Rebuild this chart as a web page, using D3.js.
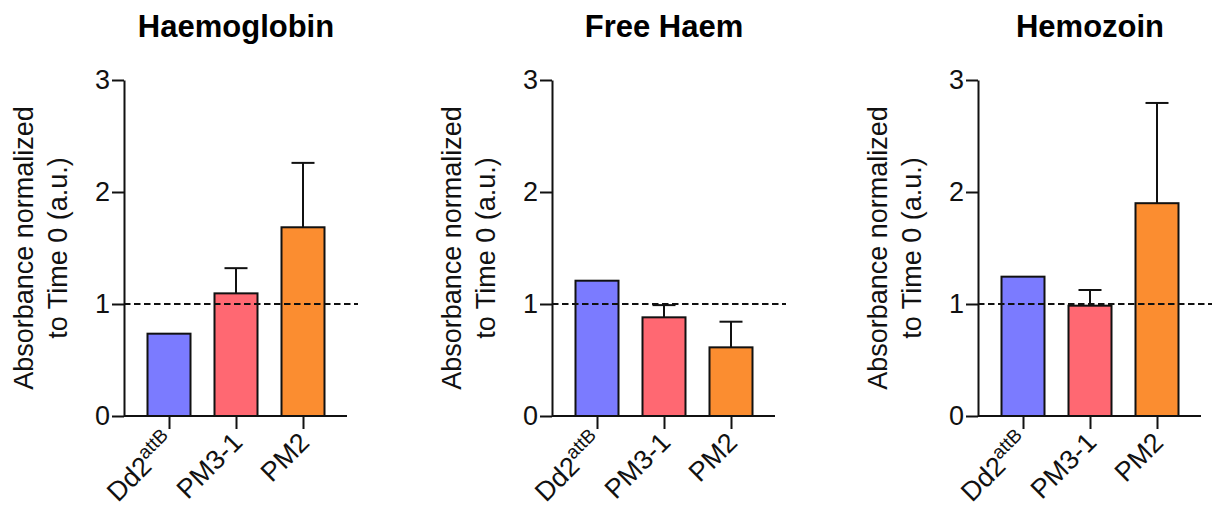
<!DOCTYPE html>
<html>
<head>
<meta charset="utf-8">
<script src="https://cdn.jsdelivr.net/npm/d3@7"></script>
<style>
  body { margin: 0; background: #fff; }
  svg { display: block; font-family: "Liberation Sans", Arial, sans-serif; }
</style>
</head>
<body>
<svg id="chart"></svg>
<script>
// data
const strains = ["Dd2", "PM3-1", "PM2"];
const panelTitles = ["Haemoglobin", "Free Haem", "Hemozoin"];
const haemoglobin = [0.735, 1.095, 1.685];
const haemoglobinErr = [null, 1.32, 2.26];
const freeHaem = [1.208, 0.881, 0.613];
const freeHaemErr = [null, 0.99, 0.842];
const hemozoin = [1.244, 0.985, 1.90];
const hemozoinErr = [null, 1.125, 2.795];
const yTicks = [0, 1, 2, 3];
const barColors = ["#7b7bff", "#ff6872", "#fb8d30"];

const panels = [
    {title: panelTitles[0], values: haemoglobin, errs: haemoglobinErr},
    {title: panelTitles[1], values: freeHaem, errs: freeHaemErr},
    {title: panelTitles[2], values: hemozoin, errs: hemozoinErr}
];

const width = 1212, height = 507;
const svg = d3.select("#chart").attr("width", width).attr("height", height);

const axisX = [124, 552, 978];
const y0 = 416, yTop = 80;
const barW = 43;

const y = d3.scaleLinear().domain([0, 3]).range([y0, yTop]);
const color = d3.scaleOrdinal().domain(strains).range(barColors);

panels.forEach((p, i) => {
    const ax = axisX[i];
    const g = svg.append("g");

    const x = d3.scalePoint()
        .domain(strains)
        .range([ax + 45, ax + 179]);

    // title
    g.append("text")
        .attr("x", x("PM3-1"))
        .attr("y", 37)
        .attr("text-anchor", "middle")
        .attr("font-size", "31px")
        .attr("font-weight", "bold")
        .text(p.title);

    // bars
    g.selectAll("rect.bar")
        .data(p.values)
        .join("rect")
        .attr("class", "bar")
        .attr("x", (d, j) => x(strains[j]) - barW / 2)
        .attr("y", d => y(d))
        .attr("width", barW)
        .attr("height", d => y0 - y(d))
        .attr("fill", (d, j) => color(strains[j]))
        .attr("stroke", "#111")
        .attr("stroke-width", 2);

    // error bars (upper only)
    const errs = p.errs.map((e, j) => ({e, v: p.values[j], k: strains[j]})).filter(d => d.e != null);
    g.selectAll("line.err")
        .data(errs)
        .join("line")
        .attr("x1", d => x(d.k)).attr("x2", d => x(d.k))
        .attr("y1", d => y(d.v)).attr("y2", d => y(d.e))
        .attr("stroke", "#111").attr("stroke-width", 2);
    g.selectAll("line.cap")
        .data(errs)
        .join("line")
        .attr("x1", d => x(d.k) - 11.5).attr("x2", d => x(d.k) + 11.5)
        .attr("y1", d => y(d.e)).attr("y2", d => y(d.e))
        .attr("stroke", "#111").attr("stroke-width", 2);

    // dashed reference line at 1
    g.append("line")
        .attr("x1", ax).attr("x2", ax + 234)
        .attr("y1", y(1)).attr("y2", y(1))
        .attr("stroke", "#111")
        .attr("stroke-width", 2)
        .attr("stroke-dasharray", "6.5,3.5");

    // y axis
    const yAxis = g.append("g")
        .attr("transform", `translate(${ax},0)`)
        .call(d3.axisLeft(y).tickValues(yTicks).tickFormat(d3.format("d")).tickSize(12).tickSizeOuter(0).tickPadding(2));
    yAxis.selectAll("path, line").attr("stroke", "#111").attr("stroke-width", 2);
    yAxis.selectAll("text").attr("font-size", "27px").attr("fill", "#111").attr("font-family", "Liberation Sans, Arial, sans-serif");

    // x axis
    const xAxis = g.append("g")
        .attr("transform", `translate(0,${y0})`)
        .call(d3.axisBottom(x).tickSize(13).tickSizeOuter(0).tickFormat(""));
    xAxis.select(".domain").remove();
    xAxis.selectAll("line").attr("stroke", "#111").attr("stroke-width", 2);
    g.append("line")
        .attr("x1", ax).attr("x2", ax + 223)
        .attr("y1", y0).attr("y2", y0)
        .attr("stroke", "#111").attr("stroke-width", 2);

    // rotated category labels
    strains.forEach(s => {
        const t = g.append("text")
            .attr("transform", `translate(${x(s) + 8},${y0 + 28}) rotate(-45)`)
            .attr("text-anchor", "end")
            .attr("font-size", "27px")
            .attr("fill", "#111");
        if (s === "Dd2") {
            t.append("tspan").text("Dd2");
            t.append("tspan").attr("font-size", "19px").attr("dy", -11).text("attB");
        } else {
            t.text(s);
        }
    });

    // y axis title
    const yl = g.append("text")
        .attr("transform", `translate(${ax - 91},${(y0 + yTop) / 2}) rotate(-90)`)
        .attr("text-anchor", "middle")
        .attr("font-size", "27px")
        .attr("fill", "#111");
    yl.append("tspan").attr("x", 0).attr("y", 0).text("Absorbance normalized");
    yl.append("tspan").attr("x", 0).attr("y", 34).text("to Time 0 (a.u.)");
});
</script>
</body>
</html>
